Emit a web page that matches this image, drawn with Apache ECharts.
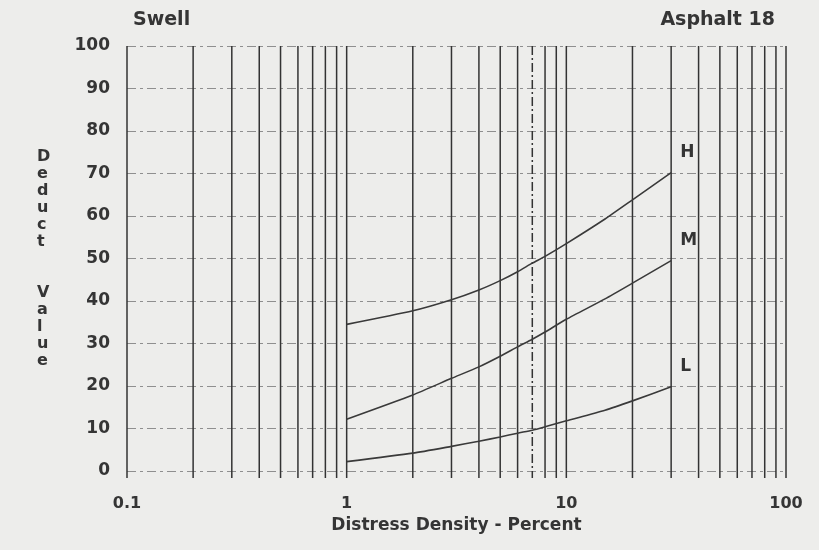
<!DOCTYPE html>
<html>
<head>
<meta charset="utf-8">
<script src="https://cdn.jsdelivr.net/npm/echarts@6/dist/echarts.min.js"></script>
<style>
  html, body { margin: 0; padding: 0; background: #ededeb; }
  #chart { width: 819px; height: 550px; }
</style>
</head>
<body>
<div id="chart"></div>
<script>
// Vertical rulings of the log-scale paper (distress density, %)
const gridDensity = [0.1, 0.2, 0.3, 0.4, 0.5, 0.6, 0.7, 0.8, 0.9,
                     1, 2, 3, 4, 5, 6, 7, 8, 9,
                     10, 20, 30, 40, 50, 60, 70, 80, 90, 100];

// Sampled points along each severity curve
const density = [1, 2, 3, 4, 5, 6, 7, 8, 10, 15, 20, 30];
const deductHigh   = [34.5, 37.7, 40.3, 42.6, 44.8, 46.9, 48.9, 50.5, 53.5, 59.3, 63.8, 70.2];
const deductMedium = [12.2, 17.9, 21.8, 24.5, 27.0, 29.2, 31.0, 32.7, 35.7, 40.5, 44.2, 49.5];
const deductLow    = [2.2, 4.2, 5.8, 7.0, 8.0, 8.9, 9.6, 10.4, 11.8, 14.3, 16.5, 19.8];

const severityNames = ['H', 'M', 'L'];
const yTicks = [0, 10, 20, 30, 40, 50, 60, 70, 80, 90, 100];

const FONT = 'DejaVu Sans';
const INK = '#353535';

const pair = (xs, ys) => xs.map((x, i) => [x, ys[i]]);

function curve(name, values) {
  return {
    type: 'line',
    name: name,
    data: pair(density, values),
    smooth: 0.2,
    showSymbol: false,
    symbol: 'none',
    z: 5,
    lineStyle: { color: '#3a3a3a', width: 1.6 },
    endLabel: {
      show: true,
      formatter: name,
      offset: [1, -20],
      color: INK,
      fontFamily: FONT,
      fontWeight: 'bold',
      fontSize: 17
    },
    silent: true,
    animation: false
  };
}

const chart = echarts.init(document.getElementById('chart'), null, { renderer: 'canvas' });

chart.setOption({
  backgroundColor: '#ededeb',
  animation: false,
  title: [
    { text: 'Swell', left: 128, top: 6,
      textStyle: { fontFamily: FONT, fontWeight: 'bold', fontSize: 19, color: INK } },
    { text: 'Asphalt 18', right: 39, top: 6,
      textStyle: { fontFamily: FONT, fontWeight: 'bold', fontSize: 19, color: INK } }
  ],
  grid: { left: 127, right: 33, top: 46, bottom: 79, containLabel: false },
  xAxis: {
    type: 'log',
    logBase: 10,
    min: 0.1,
    max: 100,
    name: 'Distress Density - Percent',
    nameLocation: 'middle',
    nameGap: 46,
    nameTextStyle: { fontFamily: FONT, fontWeight: 'bold', fontSize: 17, color: INK },
    axisLine: { show: false },
    axisTick: { show: false },
    splitLine: { show: false },
    axisLabel: {
      margin: 25,
      fontFamily: FONT, fontWeight: 'bold', fontSize: 16, color: INK,
      formatter: v => String(+v.toPrecision(3))
    }
  },
  yAxis: {
    type: 'value',
    min: yTicks[0],
    max: yTicks[yTicks.length - 1],
    interval: 10,
    axisLine: { show: false },
    axisTick: { show: false },
    axisLabel: {
      margin: 17,
      fontFamily: FONT, fontWeight: 'bold', fontSize: 17, color: INK
    },
    splitLine: {
      show: true,
      lineStyle: { color: '#8f8f8f', width: 1.2, type: [9, 4, 3, 4] }
    }
  },
  graphic: [
    {
      type: 'text',
      left: 37,
      top: 148,
      style: {
        text: 'D\ne\nd\nu\nc\nt\n\n\nV\na\nl\nu\ne',
        font: 'bold 16px "DejaVu Sans"',
        lineHeight: 17,
        align: 'center',
        fill: INK
      }
    }
  ],
  series: [
    {
      type: 'custom',
      name: 'rulings',
      data: gridDensity.map(v => [v, 0]),
      encode: { x: 0, y: 1 },
      z: 2,
      silent: true,
      renderItem: function (params, api) {
        const x = api.value(0);
        const top = api.coord([x, 100]);
        const bot = api.coord([x, 0]);
        return {
          type: 'line',
          shape: { x1: top[0], y1: top[1], x2: bot[0], y2: bot[1] + 7 },
          style: {
            stroke: '#333',
            lineWidth: 1.5,
            lineDash: x === 7 ? [9, 3, 2, 3] : null
          }
        };
      }
    },
    curve(severityNames[0], deductHigh),
    curve(severityNames[1], deductMedium),
    curve(severityNames[2], deductLow)
  ]
});
</script>
</body>
</html>
